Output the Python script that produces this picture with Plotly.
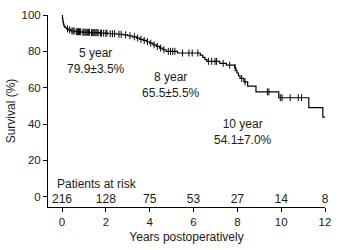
import plotly.graph_objects as go

# Kaplan-Meier step curve (years, survival %)
event_times = [0, 0.02, 0.04, 0.06, 0.08, 0.1, 0.14, 0.2, 0.28, 0.4, 0.6, 0.9, 1.3, 1.7, 2.1, 2.5,
               2.8, 3.0, 3.2, 3.4, 3.55, 3.7, 3.85, 4.0, 4.15, 4.3, 4.45, 4.6, 4.75, 5.27, 6.31, 6.42,
               6.52, 6.61, 7.2, 7.5, 7.88, 7.93, 7.98, 8.05, 8.12, 8.3, 8.47, 8.85, 9.89, 11.26, 11.9, 12.0]
survival = [100, 98.0, 96.5, 95.2, 94.3, 93.6, 93.0, 92.4, 91.8, 91.2, 90.8, 90.5, 90.3, 90.0, 89.7, 89.4,
            89.1, 88.6, 88.0, 87.3, 86.6, 86.0, 85.3, 84.5, 83.6, 82.7, 81.8, 80.9, 80.0, 79.1, 77.9, 76.7,
            75.5, 74.5, 73.4, 72.4, 71.0, 69.6, 68.1, 66.6, 65.1, 63.2, 60.9, 57.7, 54.5, 49.1, 43.8, 43.8]

censor_times = [0.25, 0.35, 0.45, 0.5, 0.55, 0.65, 0.7, 0.75, 0.8, 0.85, 0.95, 1.0, 1.05, 1.1, 1.15, 1.2,
                1.25, 1.35, 1.4, 1.45, 1.5, 1.55, 1.6, 1.65, 1.75, 1.8, 1.9, 2.0, 2.05, 2.2, 2.3, 2.4,
                2.6, 2.7, 2.9, 3.1, 3.3, 3.45, 3.6, 3.75, 3.9, 4.05, 4.2, 4.35, 4.5, 4.65, 4.85, 4.95,
                5.05, 5.15, 5.5, 5.79, 5.94, 6.2, 6.68, 6.83, 6.98, 7.05, 7.35, 7.65, 7.9, 8.2, 8.35,
                9.37, 9.44, 9.96, 10.04, 10.41, 10.78, 10.93]

risk_years = [0, 2, 4, 6, 8, 10, 12]
risk_counts = [216, 128, 75, 53, 27, 14, 8]

milestones = [(1.54, 74.5, "5 year<br>79.9±3.5%"),
              (4.96, 61.5, "8 year<br>65.5±5.5%"),
              (8.25, 35.5, "10 year<br>54.1±7.0%")]


def surv_at(t):
    v = survival[0]
    for et, s in zip(event_times, survival):
        if et <= t:
            v = s
    return v


censor_y = [surv_at(t) for t in censor_times]

FONT = "Liberation Sans, Arial, sans-serif"
TXT = "#1a1a1a"

fig = go.Figure()
fig.add_trace(go.Scatter(x=event_times, y=survival, mode="lines", line_shape="hv",
                         line=dict(color="black", width=1.2), hoverinfo="skip", showlegend=False))
fig.add_trace(go.Scatter(x=censor_times, y=censor_y, mode="markers",
                         marker=dict(symbol="line-ns", size=5, line=dict(color="black", width=1)),
                         showlegend=False, hoverinfo="skip"))
fig.add_trace(go.Scatter(x=risk_years, y=[-1.5] * len(risk_years), mode="text", cliponaxis=False,
                         text=[str(c) for c in risk_counts], textposition="middle center",
                         textfont=dict(family=FONT, size=12, color=TXT), showlegend=False))

for x, y, txt in milestones:
    fig.add_annotation(x=x, y=y, text=txt, showarrow=False,
                       font=dict(family=FONT, size=12, color=TXT), align="center")

fig.add_annotation(x=-0.34, y=6.8, text="Patients at risk", showarrow=False, xanchor="left",
                   font=dict(family=FONT, size=12, color=TXT))

fig.update_layout(
    width=340, height=250,
    margin=dict(l=48, r=9, t=14, b=39),
    plot_bgcolor="white", paper_bgcolor="white",
    font=dict(family=FONT, size=11.5, color=TXT),
    xaxis=dict(range=[-0.64, 12], tickvals=risk_years, showline=True, linecolor="black", linewidth=1,
               ticks="outside", ticklen=4, tickcolor="black", showgrid=False, zeroline=False,
               title=dict(text="Years postoperatively", font=dict(size=12), standoff=5)),
    yaxis=dict(range=[-5.6, 100], tickvals=[0, 20, 40, 60, 80, 100], showline=True, linecolor="black",
               linewidth=1, ticks="outside", ticklen=4, tickcolor="black", showgrid=False, zeroline=False,
               title=dict(text="Survival (%)", font=dict(size=12), standoff=3)),
)

fig.write_html("out.html")
